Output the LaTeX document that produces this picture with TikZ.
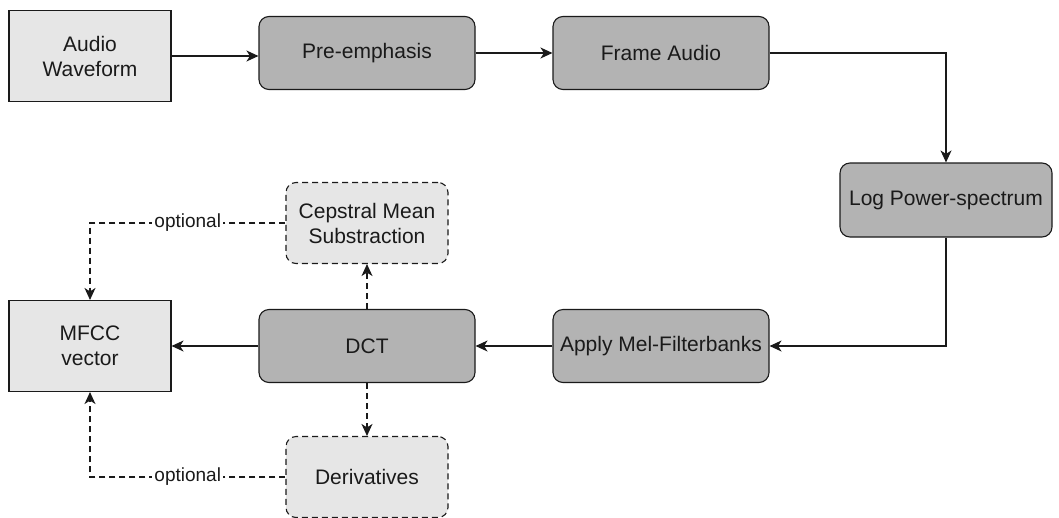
\documentclass[tikz,border=0pt]{standalone}
\usepackage{fontspec}
\setmainfont{Liberation Sans}
\usetikzlibrary{arrows.meta}
\definecolor{darkbox}{HTML}{B3B3B3}
\definecolor{lightbox}{HTML}{E6E6E6}
\definecolor{inkline}{HTML}{1A1A1A}
\begin{document}
\begin{tikzpicture}[x=1pt,y=-1pt,
  every node/.style={text=inkline, align=center, inner sep=0pt},
  endbox/.style={draw=inkline, line width=1.1pt, fill=lightbox,
    minimum width=162pt, minimum height=91pt,
    font=\fontsize{21}{25}\selectfont},
  stepbox/.style={draw=inkline, line width=1.1pt, fill=darkbox, rounded corners=10pt,
    minimum width=216pt, minimum height=73pt,
    font=\fontsize{21}{25}\selectfont},
  optbox/.style={draw=inkline, line width=1.1pt, fill=lightbox, rounded corners=10pt,
    dash pattern=on 6pt off 4pt,
    minimum width=162pt, minimum height=81pt,
    font=\fontsize{21}{25}\selectfont},
  flow/.style={draw=inkline, line width=1.1pt,
    -{Stealth[length=12pt,width=11pt,inset=3.5pt]}},
  optflow/.style={flow, dash pattern=on 6pt off 4pt},
  optlabel/.style={fill=white, inner xsep=2pt, inner ysep=1pt,
    font=\fontsize{19}{22}\selectfont}
]
\useasboundingbox (0,0) rectangle (1059,517);

% main chain
\node[endbox]  (wave) at (90,56)   {Audio\\Waveform};
\node[stepbox] (pre)  at (367,53)  {Pre-emphasis};
\node[stepbox] (frm)  at (661,53)  {Frame Audio};
\node[stepbox, minimum width=212pt, minimum height=74pt] (lps) at (946,200) {Log Power-spectrum};
\node[stepbox] (mel)  at (661,346) {Apply Mel-Filterbanks};
\node[stepbox] (dct)  at (367,346) {DCT};
\node[endbox]  (mfcc) at (90,346)  {MFCC\\vector};

% optional post-processing
\node[optbox] (cms) at (367,223) {Cepstral Mean\\Substraction};
\node[optbox] (der) at (367,477) {Derivatives};

\draw[flow] (wave.east) -- (wave.east -| pre.west);
\draw[flow] (pre) -- (frm);
\draw[flow] (frm.east) -| (lps.north);
\draw[flow] (lps.south) |- (mel.east);
\draw[flow] (mel) -- (dct);
\draw[flow] (dct) -- (mfcc);

\draw[optflow] (dct.north) -- (cms.south);
\draw[optflow] (dct.south) -- (der.north);
\draw[optflow] (cms.west) -| node[optlabel, pos=0.25] {optional} (mfcc.north);
\draw[optflow] (der.west) -| node[optlabel, pos=0.25] {optional} (mfcc.south);
\end{tikzpicture}
\end{document}
